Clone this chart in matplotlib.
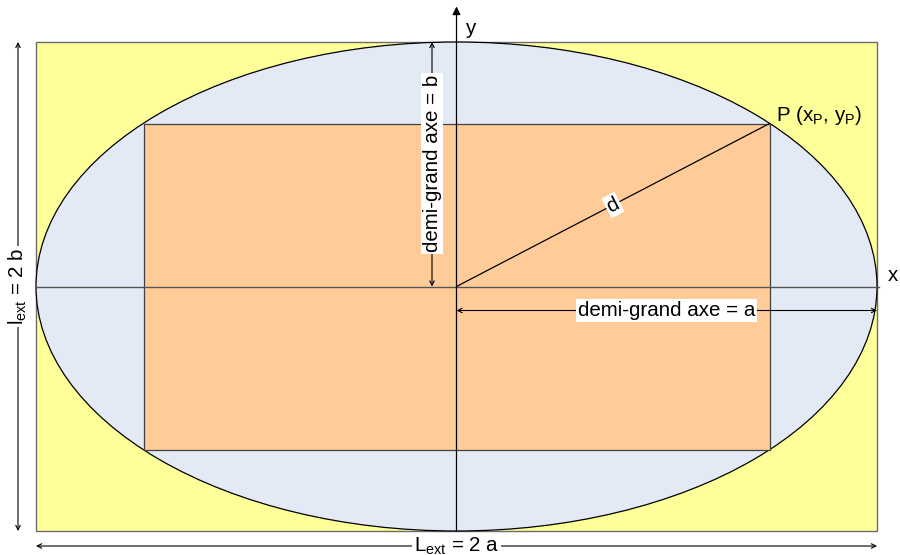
import matplotlib
matplotlib.use("Agg")
import matplotlib.pyplot as plt
from matplotlib.patches import Ellipse, Rectangle
import numpy as np

plt.rcParams['font.family'] = ['Liberation Sans', 'DejaVu Sans']

# Geometry (semi-axes and point P, in drawing units)
a = 420.5
b = 244.5
xP = 313.0
yP = 163.0

labels = {
    "lext": r"l$_\mathregular{ext}$ = 2 b",
    "Lext": r"L$_\mathregular{ext}$ = 2 a",
    "semi_b": "demi-grand axe = b",
    "semi_a": "demi-grand axe = a",
    "d": "d",
    "P": r"P (x$_\mathregular{P}$, y$_\mathregular{P}$)",
    "x": "x",
    "y": "y",
}

fig = plt.figure(figsize=(9, 5.55), dpi=100)
ax = fig.add_axes([0, 0, 1, 1])
ax.set_xlim(-456.5, 443.5)
ax.set_ylim(-268.5, 286.5)
ax.axis('off')

fs = 14.8
# outer rectangle
ax.add_patch(Rectangle((-a, -b), 2 * a, 2 * b, facecolor='#FFFF99', edgecolor='#6b6b6b', lw=1.0, zorder=1))
# ellipse
ax.add_patch(Ellipse((0, 0), 2 * a, 2 * b, facecolor='#E4EAF5', edgecolor='black', lw=0.9, zorder=2))
# inner rectangle
ax.add_patch(Rectangle((-xP, -yP), 2 * xP, 2 * yP, facecolor='#FFCC99', edgecolor='#404040', lw=0.9, zorder=3))

# axes lines
ax.plot([-a, a + 2], [0, 0], color='#555555', lw=1.0, zorder=4)
ax.annotate('', xy=(0, 280), xytext=(0, -b), zorder=4,
            arrowprops=dict(arrowstyle='-|>', color='black', lw=0.9, mutation_scale=12, shrinkA=0, shrinkB=0))
ax.text(10, 258, labels["y"], fontsize=fs, ha='left', va='center', zorder=6)
ax.text(431, 11, labels["x"], fontsize=fs, ha='left', va='center', zorder=6)

# d line
ax.plot([0, xP], [0, yP], color='black', lw=0.9, zorder=4)
ang = np.degrees(np.arctan2(yP, xP))
ax.text(xP / 2, yP / 2, labels["d"], fontsize=fs, ha='center', va='center', rotation=ang,
        rotation_mode='anchor', zorder=6,
        bbox=dict(facecolor='white', edgecolor='none', pad=1.2))

# P label
ax.text(xP + 7, yP + 8, labels["P"], fontsize=fs, ha='left', va='center', zorder=6)

arr = dict(arrowstyle='<->', color='black', lw=0.8, mutation_scale=8, shrinkA=0, shrinkB=0)

# semi-axis b
xb = -24.5
ax.annotate('', xy=(xb, b), xytext=(xb, 0), arrowprops=arr, zorder=5)
ax.text(xb, 123, labels["semi_b"], fontsize=fs, rotation=90, ha='center', va='center', zorder=6,
        bbox=dict(facecolor='white', edgecolor='none', pad=1.2))

# semi-axis a
ya = -24
ax.annotate('', xy=(0, ya), xytext=(a, ya), arrowprops=arr, zorder=5)
ax.text(210, ya, labels["semi_a"], fontsize=fs, ha='center', va='center', zorder=6,
        bbox=dict(facecolor='white', edgecolor='none', pad=1.2))

# external dimensions
xl = -438.5
ax.annotate('', xy=(xl, b), xytext=(xl, -b), arrowprops=arr, zorder=5)
ax.text(xl, 0, labels["lext"], fontsize=fs, rotation=90, ha='center', va='center', zorder=6,
        bbox=dict(facecolor='white', edgecolor='none', pad=1.2))
yl = -259.5
ax.annotate('', xy=(-a, yl), xytext=(a, yl), arrowprops=arr, zorder=5)
ax.text(0, yl, labels["Lext"], fontsize=fs, ha='center', va='center', zorder=6,
        bbox=dict(facecolor='white', edgecolor='none', pad=1.2))

fig.savefig('out.png', dpi=100)
